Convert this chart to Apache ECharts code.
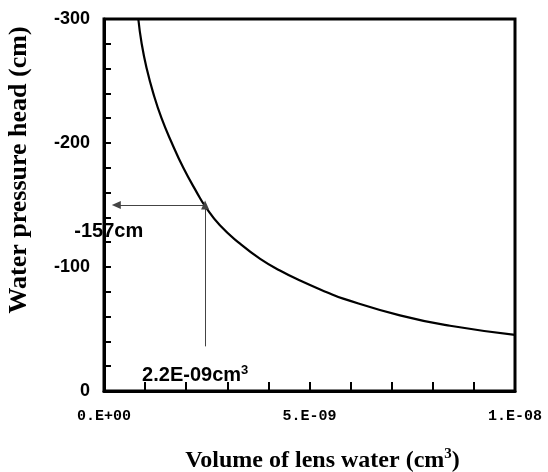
<!DOCTYPE html>
<html><head><meta charset="utf-8">
<script src="https://cdn.jsdelivr.net/npm/echarts@6/dist/echarts.min.js"></script>
<style>html,body{margin:0;padding:0;background:#fff}#c{width:548px;height:472px}</style>
</head><body><div id="c"></div>
<script>
// Curve: volume of lens water (cm^3) vs water pressure head (cm)
var volume = [0.835e-9, 0.917e-9, 1.039e-9, 1.20e-9, 1.40e-9, 1.65e-9, 1.93e-9, 2.26e-9, 2.46e-9, 2.82e-9, 3.31e-9, 3.80e-9, 4.28e-9, 4.77e-9, 5.42e-9, 5.82e-9, 7.20e-9, 8.42e-9, 1.0e-8];
var head = [-300, -280, -260, -240, -220, -200, -180, -160, -149, -133.6, -118.8, -106.6, -97.2, -89.1, -79.7, -74.5, -61, -52.6, -45.3];
// Annotation arrows
var arrowPointV = 2.46e-9, arrowPointH = -150;
var arrowLeftV = 0.3e-9;
var arrowBottomH = -36;
var headLabel = '-157cm';
var volLabel = '2.2E-09cm';
// Tick labels
var xTickLabels = {0: '0.E+00', 5: '5.E-09', 10: '1.E-08'};
var yTickLabels = [-300, -200, -100, 0];

var chart = echarts.init(document.getElementById('c'), null, {renderer: 'canvas'});
var pts = volume.map(function (v, i) { return [v, head[i]]; });
var option = {
  animation: false,
  grid: {left: 104, top: 19, right: 33, bottom: 81, show: true, borderColor: '#000', borderWidth: 3, containLabel: false, outerBoundsMode: 'none'},
  xAxis: {
    type: 'value', min: 0, max: 1e-8, interval: 1e-9,
    axisLine: {lineStyle: {color: '#000', width: 3}},
    axisTick: {show: true, inside: true, length: 9, lineStyle: {color: '#000', width: 2}},
    splitLine: {show: false},
    axisLabel: {
      margin: 18, color: '#000', fontFamily: 'Liberation Mono', fontWeight: 'bold', fontSize: 15,
      formatter: function (v) { var k = Math.round(v / 1e-9); return xTickLabels[k] || ''; }
    },
    name: 'Volume of lens water (cm{sup|3})',
    nameLocation: 'middle', nameGap: 56,
    nameTextStyle: {
      color: '#000', fontFamily: 'Liberation Serif', fontWeight: 'bold', fontSize: 24, padding: [0, 0, 0, 26],
      rich: {sup: {fontFamily: 'Liberation Serif', fontWeight: 'bold', fontSize: 15, verticalAlign: 'bottom', padding: [0, 0, 12, 0], color: '#000'}}
    }
  },
  yAxis: {
    type: 'value', min: -300, max: 0, interval: 20, inverse: true,
    axisLine: {lineStyle: {color: '#000', width: 3}},
    axisTick: {show: true, inside: true, length: 7, lineStyle: {color: '#000', width: 2}},
    splitLine: {show: false},
    axisLabel: {
      margin: 14, color: '#000', fontFamily: 'Liberation Sans', fontWeight: 'bold', fontSize: 18,
      formatter: function (v) { return yTickLabels.indexOf(Math.round(v)) >= 0 ? String(Math.round(v)) : ''; }
    },
    name: 'Water pressure head (cm)',
    nameLocation: 'middle', nameGap: 72, nameRotate: 90,
    nameTextStyle: {color: '#000', fontFamily: 'Liberation Serif', fontWeight: 'bold', fontSize: 26, padding: [0, 0, 0, 70]}
  },
  series: [{
    type: 'line', data: pts, smooth: true, showSymbol: false,
    lineStyle: {color: '#000', width: 2.2},
    markLine: {
      silent: true, animation: false,
      symbol: ['none', 'triangle'], symbolSize: [8, 9],
      label: {show: false},
      lineStyle: {color: '#444', width: 1, type: 'solid'},
      data: [
        [{coord: [arrowPointV, arrowPointH]}, {coord: [arrowLeftV, arrowPointH]}],
        [{coord: [arrowPointV, arrowBottomH]}, {coord: [arrowPointV, arrowPointH]}]
      ]
    }
  }]
};
chart.setOption(option);
var p1 = chart.convertToPixel({gridIndex: 0}, [arrowLeftV, arrowPointH]);
var p2 = chart.convertToPixel({gridIndex: 0}, [arrowPointV, arrowBottomH]);
chart.setOption({
  graphic: [
    {type: 'text', left: p1[0] - 42, top: p1[1] + 16, style: {text: headLabel, fill: '#000', font: 'bold 20px "Liberation Sans"'}},
    {type: 'text', left: p2[0] - 63, top: p2[1] + 18, style: {
      text: volLabel + '{s|3}', fill: '#000', font: 'bold 20px "Liberation Sans"',
      rich: {s: {fontSize: 13, fontWeight: 'bold', fontFamily: 'Liberation Sans', verticalAlign: 'bottom', padding: [0, 0, 10, 0], fill: '#000'}}
    }}
  ]
});
</script></body></html>
